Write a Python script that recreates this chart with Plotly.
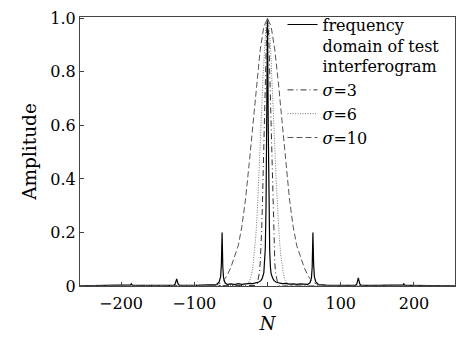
import plotly.graph_objects as go

# ---- data ----
spec_n = [-256, -200, -190, -187, -186, -185, -182, -150, -128, -126, -124, -122, -120, -100, -80,
          -70, -66, -64, -63, -62, -61, -60, -58, -55, -50, -45, -40, -35, -30, -25, -20, -15, -12,
          -9, -7, -5, -4, -3, -2, -1, 0, 1, 2, 3, 4, 5, 7, 9, 12, 15, 20, 25, 30, 35, 40, 45, 50,
          55, 58, 60, 61, 62, 63, 64, 66, 70, 80, 100, 120, 122, 124, 126, 128, 150, 182, 185,
          186, 187, 190, 200, 256]
spec_amp = [0.001, 0.002, 0.002, 0.004, 0.008, 0.004, 0.002, 0.002, 0.002, 0.008, 0.026, 0.008, 0.002, 0.002, 0.003,
            0.005, 0.015, 0.035, 0.08, 0.2, 0.07, 0.03, 0.012, 0.006, 0.008, 0.005, 0.009, 0.006, 0.008, 0.01, 0.009, 0.012, 0.015,
            0.02, 0.03, 0.05, 0.08, 0.14, 0.3, 0.65, 1.0, 0.6, 0.28, 0.13, 0.07, 0.045, 0.03, 0.02, 0.014, 0.012, 0.009, 0.01, 0.007, 0.008, 0.006, 0.008, 0.006,
            0.006, 0.012, 0.03, 0.07, 0.2, 0.08, 0.035, 0.015, 0.005, 0.003, 0.002, 0.002, 0.008, 0.03, 0.008, 0.002, 0.002, 0.002, 0.004,
            0.008, 0.004, 0.002, 0.002, 0.001]

s3_n = [-256, -20, -16, -14, -12, -11, -10, -9, -8, -7, -6, -5, -4, -3, -2, -1, 0,
        1, 2, 3, 4, 5, 6, 7, 8, 9, 10, 11, 12, 14, 16, 20, 256]
s3_amp = [0.0, 0.0001, 0.002, 0.008, 0.029, 0.05, 0.085, 0.135, 0.206, 0.298, 0.411, 0.539, 0.674, 0.801, 0.906, 0.976, 1.0,
          0.976, 0.906, 0.801, 0.674, 0.539, 0.411, 0.298, 0.206, 0.135, 0.085, 0.05, 0.029, 0.008, 0.002, 0.0001, 0.0]

s6_n = [-256, -35, -30, -28, -26, -24, -22, -20, -18, -16, -14, -12, -10, -8, -6, -4, -2, 0,
        2, 4, 6, 8, 10, 12, 14, 16, 18, 20, 22, 24, 26, 28, 30, 35, 256]
s6_amp = [0.0, 0.0003, 0.0026, 0.0056, 0.0115, 0.022, 0.041, 0.071, 0.118, 0.184, 0.274, 0.386, 0.517, 0.655, 0.788, 0.9, 0.974, 1.0,
          0.974, 0.9, 0.788, 0.655, 0.517, 0.386, 0.274, 0.184, 0.118, 0.071, 0.041, 0.022, 0.0115, 0.0056, 0.0026, 0.0003, 0.0]

s10_n = [-256, -80, -70, -65, -60, -55, -50, -45, -40, -35, -30, -25, -20, -15, -10, -5, 0,
         5, 10, 15, 20, 25, 30, 35, 40, 45, 50, 55, 60, 65, 70, 80, 256]
s10_amp = [0.0, 0.001, 0.004, 0.01, 0.02, 0.04, 0.07, 0.11, 0.15, 0.222, 0.325, 0.458, 0.607, 0.755, 0.882, 0.969, 1.0,
           0.969, 0.882, 0.755, 0.607, 0.458, 0.325, 0.222, 0.15, 0.11, 0.07, 0.04, 0.02, 0.01, 0.004, 0.001, 0.0]

x_ticks = [-200, -100, 0, 100, 200]
x_ticklabels = ["\u2212200", "\u2212100", "0", "100", "200"]
y_ticks = [0, 0.2, 0.4, 0.6, 0.8, 1.0]
y_ticklabels = ["0", "0.2", "0.4", "0.6", "0.8", "1.0"]

FONT = "DejaVu Serif"

fig = go.Figure()
fig.add_trace(go.Scatter(x=spec_n, y=spec_amp, mode="lines",
                         name="frequency<br>domain of test<br>interferogram",
                         line=dict(color="black", width=1.2)))
fig.add_trace(go.Scatter(x=s3_n, y=s3_amp, mode="lines", name="<i>σ</i>=3",
                         line=dict(color="#333333", width=1, dash="6px,3px,1px,3px")))
fig.add_trace(go.Scatter(x=s6_n, y=s6_amp, mode="lines", name="<i>σ</i>=6",
                         line=dict(color="#777777", width=1, dash="1px,1.5px")))
fig.add_trace(go.Scatter(x=s10_n, y=s10_amp, mode="lines", name="<i>σ</i>=10",
                         line=dict(color="#555555", width=1, dash="6px,3px")))

fig.update_layout(
    width=469, height=338,
    margin=dict(l=80, r=14, t=8, b=50),
    paper_bgcolor="white", plot_bgcolor="white",
    font=dict(family=FONT, size=16, color="black"),
    showlegend=True,
    legend=dict(x=0.54, y=1.035, xanchor="left", yanchor="top",
                bgcolor="rgba(0,0,0,0)", borderwidth=0,
                font=dict(family=FONT, size=16, color="black"),
                valign="top", tracegroupgap=0, itemwidth=30),
    xaxis=dict(range=[-256, 256], tickvals=x_ticks, ticktext=x_ticklabels,
               ticks="inside", ticklen=4, tickcolor="#444", showgrid=False, zeroline=False,
               showline=True, linecolor="#444", linewidth=1, mirror=True,
               ticklabelstandoff=3, ticklabeloverflow="allow",
               title=dict(text="<i>N</i>", standoff=4, font=dict(family=FONT, size=18))),
    yaxis=dict(range=[0, 1.005], tickvals=y_ticks, ticktext=y_ticklabels,
               ticks="inside", ticklen=4, tickcolor="#444", showgrid=False, zeroline=False,
               showline=True, linecolor="#444", linewidth=1, mirror=True,
               ticklabeloverflow="allow",
               title=dict(text="Amplitude", standoff=8, font=dict(family=FONT, size=18.5))),
)

fig.write_html("out.html", config={"displayModeBar": False},
               post_script="document.body.style.margin='0';")
